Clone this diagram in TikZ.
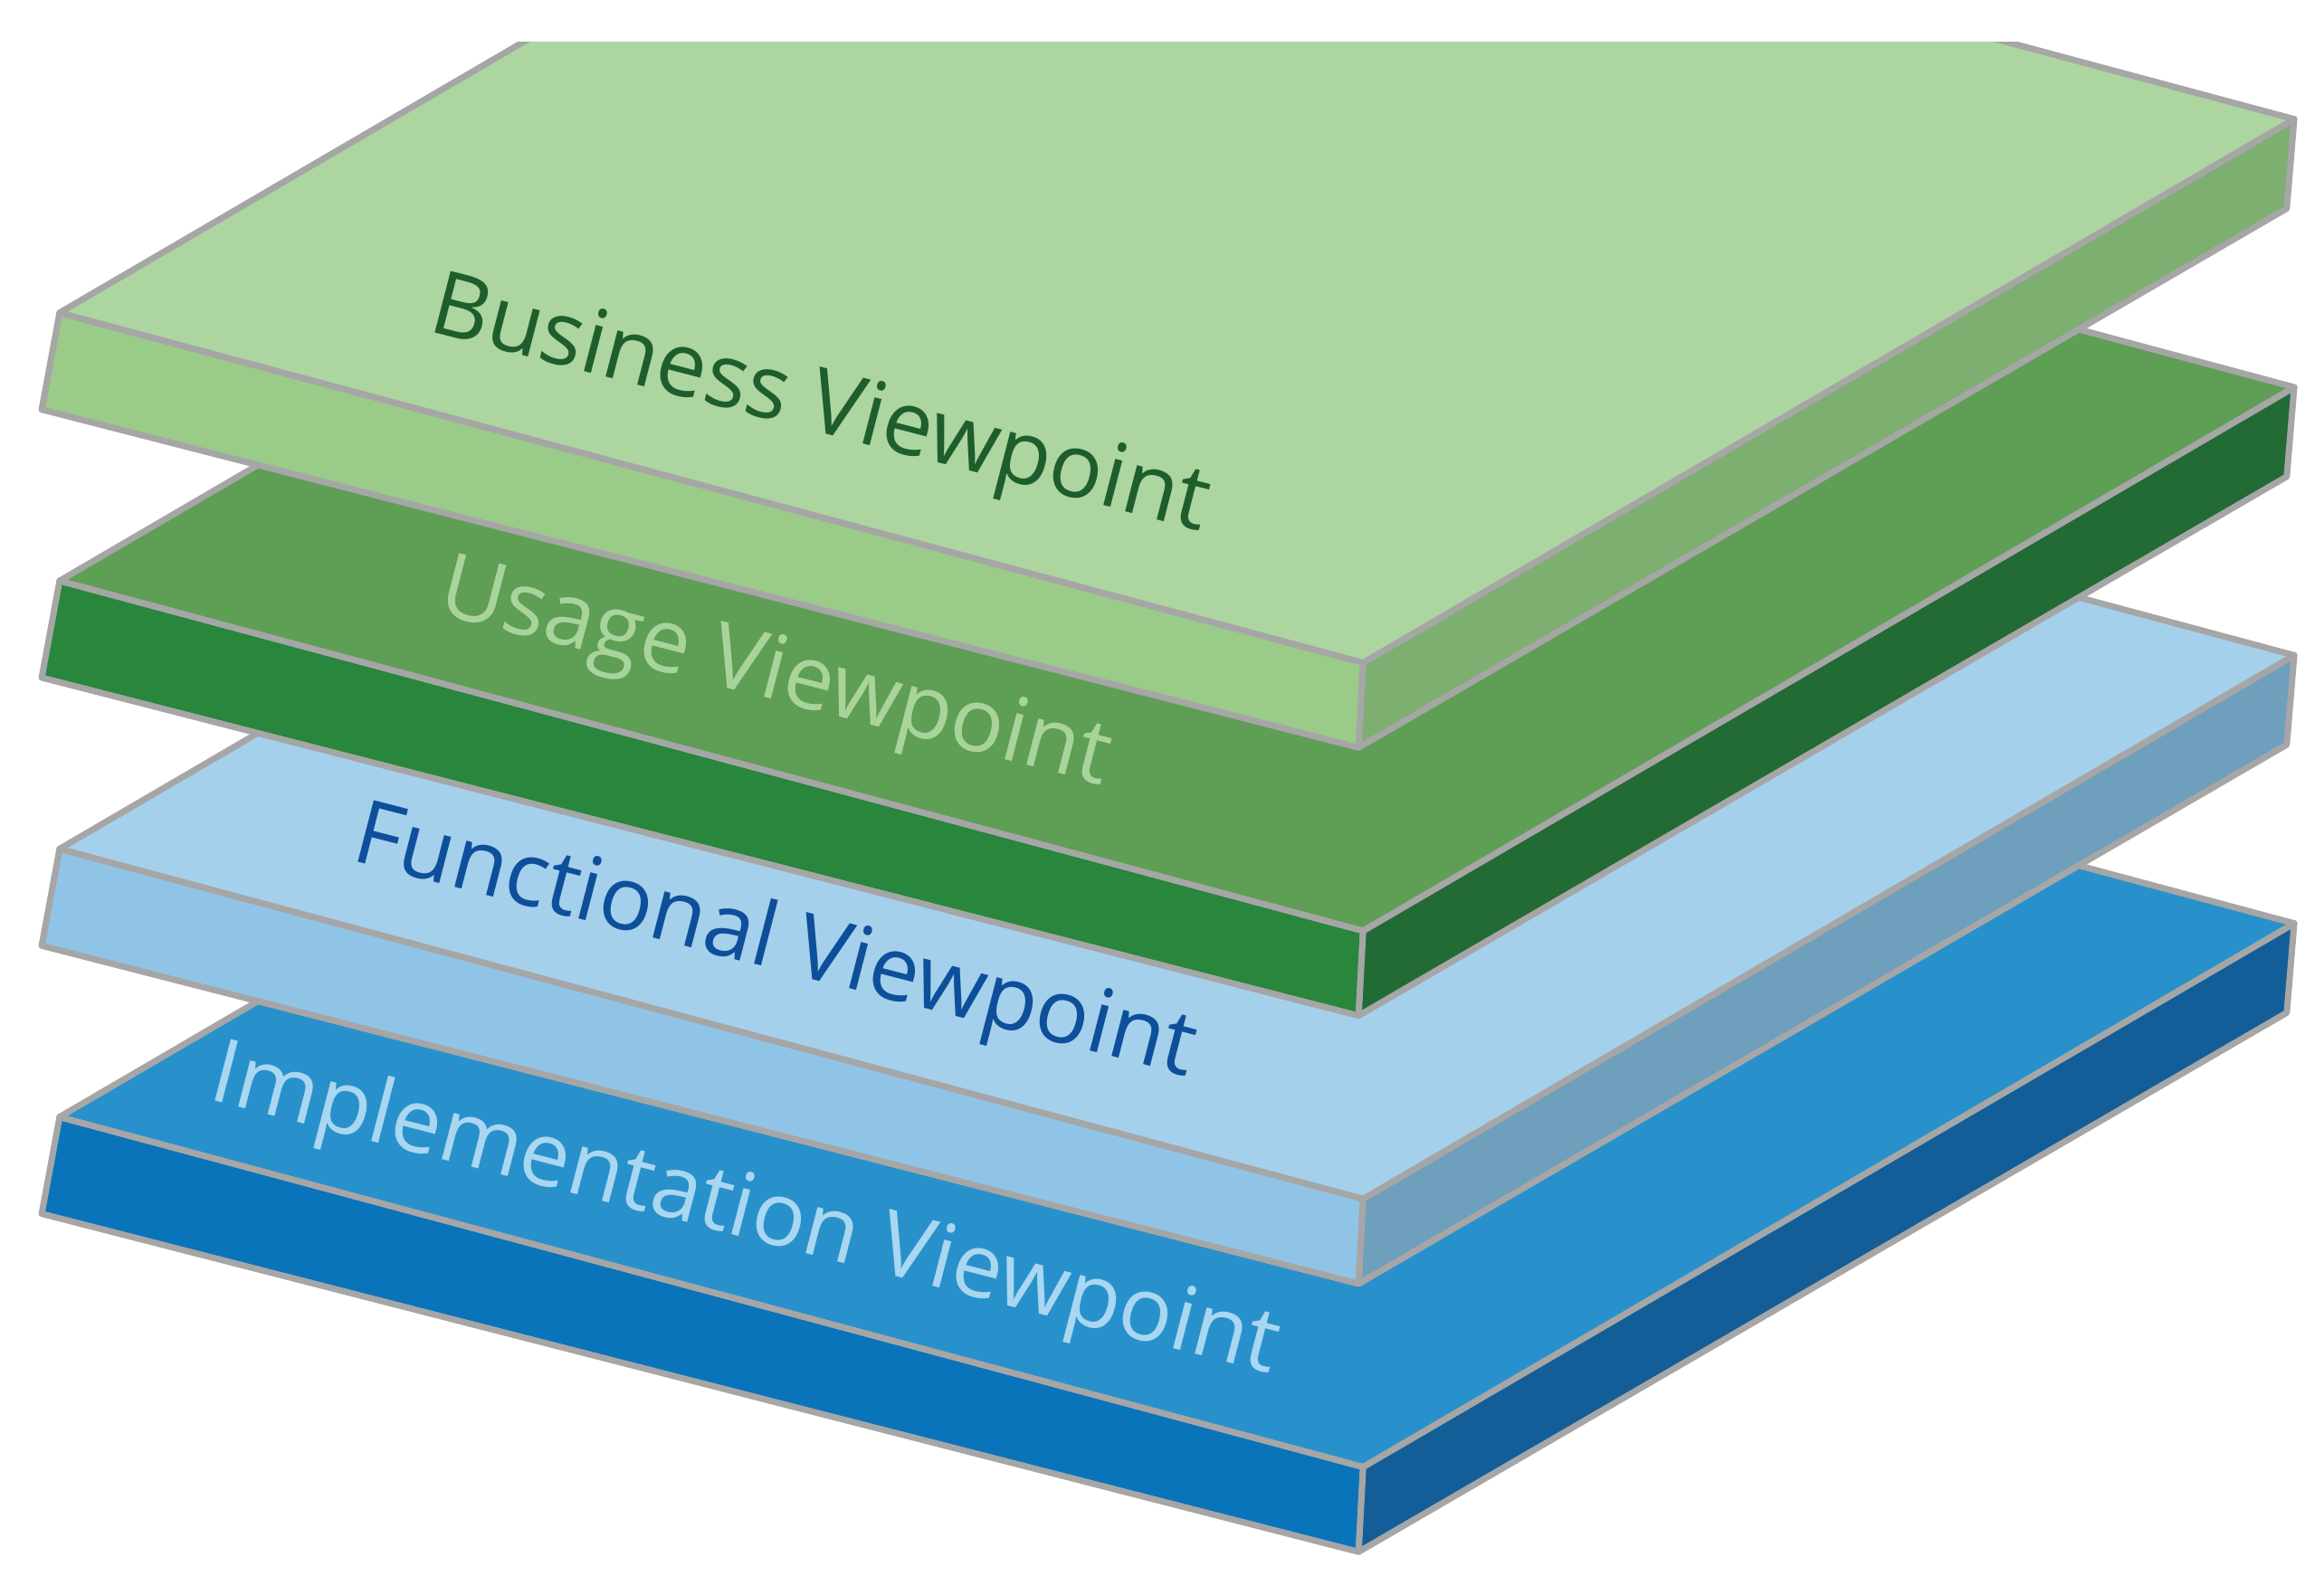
\documentclass[tikz,border=0pt]{standalone}
\usepackage{fontspec}
\setmainfont{Open Sans}
\definecolor{bizTop}{HTML}{ACD5A0}\definecolor{bizFront}{HTML}{9ACB88}\definecolor{bizSide}{HTML}{7DAF71}
\definecolor{useTop}{HTML}{5E9E55}\definecolor{useFront}{HTML}{28863D}\definecolor{useSide}{HTML}{226B35}
\definecolor{funTop}{HTML}{A5D0EC}\definecolor{funFront}{HTML}{90C4E6}\definecolor{funSide}{HTML}{6E9FBD}
\definecolor{impTop}{HTML}{2891CB}\definecolor{impFront}{HTML}{0A74BA}\definecolor{impSide}{HTML}{135E98}
\definecolor{bizText}{HTML}{1E5E2C}\definecolor{useText}{HTML}{A8D49C}
\definecolor{funText}{HTML}{0D4F9A}\definecolor{impText}{HTML}{A9D6F0}
\tikzset{
  edge/.style={draw=black!35, line width=1.2pt, line join=round},
  label/.style={font=\fontsize{17}{17}\selectfont, rotate=-14.5, inner sep=0pt}
}
\begin{document}
\begin{tikzpicture}[x=0.01cm,y=-0.01cm]
\useasboundingbox (0,0) rectangle (1560,1058);
\clip (0,28) rectangle (1560,1058);
% slabs, from the bottom one up
\foreach \dy/\c/\tx/\txt in {540/imp/500/Implementation Viewpoint,360/fun/520/Functional Viewpoint,180/use/520/Usage Viewpoint,0/biz/550/Business Viewpoint} {
  \begin{scope}[yshift=-\dy*0.01cm]
  \draw[edge, fill=\c Front] (40,210) -- (915,445) -- (912,502) -- (28,275) -- cycle;
  \draw[edge, fill=\c Side] (915,445) -- (1540,80) -- (1535,140) -- (912,502) -- cycle;
  \draw[edge, fill=\c Top] (40,210) -- (915,445) -- (1540,80) -- (665,-155) -- cycle;
  \node[label, text=\c Text] (\c) at (\tx,275) {\txt};
  \end{scope}
}
\end{tikzpicture}
\end{document}
